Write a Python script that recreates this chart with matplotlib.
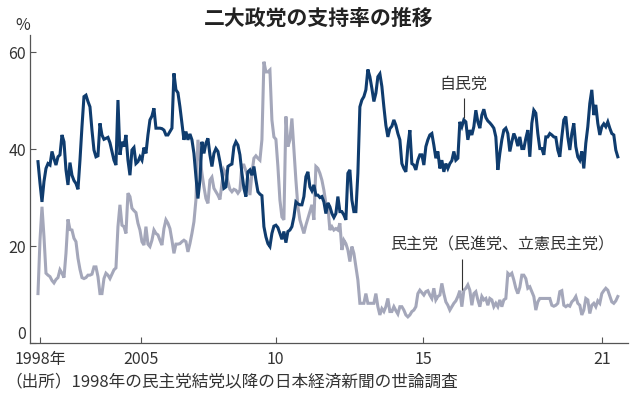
import matplotlib
matplotlib.use("Agg")
import matplotlib.pyplot as plt

plt.rcParams['font.family'] = ['Noto Sans CJK JP', 'DejaVu Sans']

# 世論調査ごとの支持率（%）、1998年から2021年まで
ldp = [
    37.4, 33.0, 29.1, 33.3, 36.0, 37.0, 36.7, 39.5, 38.0, 36.7,
    38.4, 38.8, 42.9, 41.5, 35.7, 32.6, 37.2, 34.6, 33.5, 32.9,
    31.7, 37.7, 44.6, 50.8, 51.1, 49.8, 48.7, 43.9, 39.8, 38.4,
    38.6, 45.3, 42.9, 42.0, 42.2, 42.4, 41.3, 39.5, 37.7, 36.7,
    50.1, 38.8, 41.5, 40.5, 42.9, 37.7, 34.6, 39.8, 40.3, 37.0,
    37.4, 38.4, 37.7, 40.3, 39.1, 42.9, 46.0, 46.8, 48.4, 44.3,
    44.3, 44.3, 44.2, 43.9, 42.9, 42.9, 43.6, 44.3, 55.6, 52.2,
    51.6, 48.7, 45.3, 41.9, 43.6, 41.9, 43.1, 41.9, 39.1, 34.3,
    29.8, 33.6, 41.5, 39.1, 41.2, 42.2, 38.8, 36.4, 39.1, 40.1,
    39.5, 37.4, 35.0, 31.9, 32.2, 36.4, 36.7, 36.9, 40.5, 41.5,
    40.8, 38.8, 35.0, 31.9, 30.2, 35.3, 35.7, 34.6, 36.4, 33.6,
    31.2, 30.7, 30.4, 24.0, 21.9, 20.5, 19.9, 22.6, 24.1, 24.3,
    23.8, 22.6, 21.4, 23.0, 20.7, 23.0, 23.3, 24.0, 26.0, 29.1,
    28.7, 28.5, 28.5, 30.2, 34.3, 35.3, 32.2, 31.4, 32.6, 30.5,
    30.5, 30.0, 30.2, 29.1, 26.7, 28.9, 28.1, 26.7, 25.9, 26.7,
    30.2, 27.1, 27.1, 26.4, 25.4, 35.0, 35.7, 29.5, 27.1, 27.1,
    35.0, 48.7, 50.1, 50.8, 52.2, 56.4, 54.9, 52.5, 49.8, 51.5,
    54.9, 55.5, 52.9, 48.7, 44.9, 42.5, 44.2, 44.7, 46.0, 44.9,
    43.2, 41.9, 37.0, 36.0, 35.3, 40.5, 43.9, 37.0, 36.7, 35.7,
    37.7, 38.8, 38.8, 36.7, 40.5, 41.9, 42.9, 43.2, 40.8, 38.1,
    39.5, 36.0, 37.7, 35.3, 37.0, 36.0, 37.0, 37.6, 39.5, 37.7,
    38.1, 45.6, 44.6, 46.0, 45.6, 41.9, 43.9, 42.9, 44.6, 48.0,
    45.6, 44.3, 47.0, 48.2, 46.5, 45.8, 45.4, 44.9, 44.3, 42.5,
    35.7, 39.1, 41.9, 43.9, 44.3, 43.2, 39.5, 41.5, 43.2, 42.2,
    40.6, 42.5, 40.1, 40.1, 42.2, 43.9, 38.4, 45.3, 48.0, 47.4,
    43.2, 40.1, 40.1, 38.8, 42.5, 42.5, 43.2, 42.9, 42.5, 42.4,
    39.8, 38.4, 42.5, 46.0, 46.7, 42.5, 39.8, 43.2, 45.3, 40.5,
    38.4, 37.7, 39.5, 36.0, 41.2, 44.6, 49.4, 52.2, 47.0, 49.1,
    45.3, 42.9, 44.6, 45.2, 44.6, 45.6, 44.3, 43.2, 42.9, 39.8,
    38.4,
]

dpj = [
    10.2, 21.2, 28.1, 21.9, 14.4, 14.0, 13.7, 12.9, 12.4, 13.1,
    13.5, 15.1, 14.4, 13.5, 18.5, 25.5, 23.4, 23.3, 21.6, 20.9,
    17.5, 15.2, 13.5, 13.3, 13.5, 14.0, 14.0, 14.2, 15.7, 15.7,
    13.7, 10.2, 10.2, 13.3, 14.4, 14.0, 13.3, 14.2, 15.1, 15.5,
    24.0, 28.5, 24.3, 24.0, 22.6, 30.9, 30.2, 27.8, 27.3, 26.9,
    24.7, 23.3, 20.9, 20.2, 24.0, 20.4, 19.9, 21.2, 23.3, 22.6,
    22.3, 21.2, 20.2, 23.6, 25.4, 24.7, 23.6, 21.2, 18.5, 20.4,
    20.4, 20.5, 20.9, 21.2, 20.9, 18.8, 20.5, 22.6, 25.0, 29.5,
    41.9, 38.4, 35.0, 32.2, 29.8, 28.8, 33.6, 34.2, 31.9, 31.2,
    30.5, 29.6, 32.9, 35.7, 35.0, 33.3, 31.7, 31.2, 31.7, 31.5,
    30.9, 31.5, 36.7, 36.7, 35.5, 34.0, 30.5, 35.0, 38.1, 38.6,
    38.1, 37.7, 41.9, 58.0, 55.9, 55.9, 56.3, 46.0, 42.5, 42.0,
    36.4, 29.5, 26.0, 25.4, 46.7, 40.5, 41.9, 46.3, 39.8, 33.6,
    28.1, 25.4, 24.0, 22.6, 24.3, 25.7, 27.1, 28.5, 25.4, 36.4,
    36.0, 35.0, 33.6, 31.5, 28.8, 28.1, 23.3, 24.0, 23.3, 23.6,
    23.3, 24.7, 19.2, 21.2, 20.5, 19.2, 16.8, 19.9, 18.5, 15.7,
    13.0, 8.2, 8.2, 8.2, 10.2, 8.2, 8.2, 8.2, 8.2, 10.2,
    7.5, 5.8, 7.1, 6.5, 7.5, 9.2, 6.5, 6.5, 7.5, 6.7,
    6.0, 7.5, 7.5, 6.8, 5.8, 5.4, 5.8, 6.5, 6.8, 7.5,
    10.2, 10.9, 10.4, 9.9, 10.6, 10.8, 9.9, 9.2, 11.3, 8.9,
    9.6, 9.9, 12.3, 10.2, 8.5, 7.8, 6.8, 7.5, 8.2, 8.7,
    9.6, 10.8, 7.5, 10.9, 11.3, 12.0, 10.9, 7.8, 10.2, 10.6,
    8.9, 7.5, 9.6, 8.9, 9.2, 7.8, 9.2, 8.9, 7.5, 8.2,
    7.5, 8.9, 7.5, 8.9, 9.2, 14.4, 14.0, 14.4, 13.0, 11.3,
    10.2, 11.5, 14.0, 14.0, 13.3, 11.3, 11.6, 10.6, 9.6, 6.8,
    8.5, 9.2, 9.2, 9.2, 9.2, 9.2, 9.2, 7.8, 7.6, 7.8,
    8.2, 10.6, 10.8, 7.8, 7.5, 7.8, 7.6, 8.5, 8.9, 9.6,
    8.2, 7.8, 5.8, 6.8, 9.2, 8.9, 6.1, 7.8, 8.2, 7.5,
    8.7, 8.2, 10.2, 10.8, 11.3, 10.9, 9.7, 8.5, 8.2, 8.7,
    9.6,
]

# 調査の通し番号で見た各年の位置
year_pos = [1, 51.3, 118.8, 192.6, 282]
year_labels = ['1998年', '2005', '10', '15', '21']

navy = '#0f3c6e'
grey = '#a4a7ba'
ink = '#333333'

fig = plt.figure(figsize=(6.38, 3.98), dpi=100)
ax = fig.add_axes([0.047, 0.138, 0.937, 0.774])

x = list(range(len(ldp)))
ax.plot(x, dpj, color=grey, lw=2.2, solid_joinstyle='miter')
ax.plot(x, ldp, color=navy, lw=2.2, solid_joinstyle='miter')

ax.set_xlim(-4, 295)
ax.set_ylim(0, 63.5)

ax.set_yticks([0, 20, 40, 60])
ax.set_xticks(year_pos)
ax.set_xticklabels(year_labels)
ax.tick_params(axis='both', direction='in', length=4, width=0.8,
               colors='#555555', labelcolor=ink, labelsize=11.5)
ax.tick_params(axis='x', pad=5.5)
ax.tick_params(axis='y', pad=3)
# 0の目盛り文字は少し上に寄せて年の文字と重ならないようにする
ax.get_yticklabels()[0].set_va('bottom')

for s in ['top', 'right']:
    ax.spines[s].set_visible(False)
for s in ['left', 'bottom']:
    ax.spines[s].set_color('#555555')
    ax.spines[s].set_linewidth(0.9)

fig.text(0.035, 0.937, '%', ha='center', va='center', fontsize=11.5, color=ink)
fig.text(0.5, 0.955, '二大政党の支持率の推移', ha='center', va='center',
         fontsize=15, fontweight='bold', color='#222222')

# 注記
ax.text(213, 53.4, '自民党', ha='center', va='center', fontsize=11.5, color=ink)
ax.vlines(213, 46.4, 50.5, color=ink, lw=0.8)
ax.text(232, 20.2, '民主党（民進党、立憲民主党）', ha='center', va='center',
        fontsize=11.5, color=ink)
ax.vlines(212, 10.9, 17.3, color=ink, lw=0.8)

fig.text(0.008, 0.04, '（出所）1998年の民主党結党以降の日本経済新聞の世論調査',
         ha='left', va='center', fontsize=12, color=ink)

fig.savefig('out.png', dpi=100)
